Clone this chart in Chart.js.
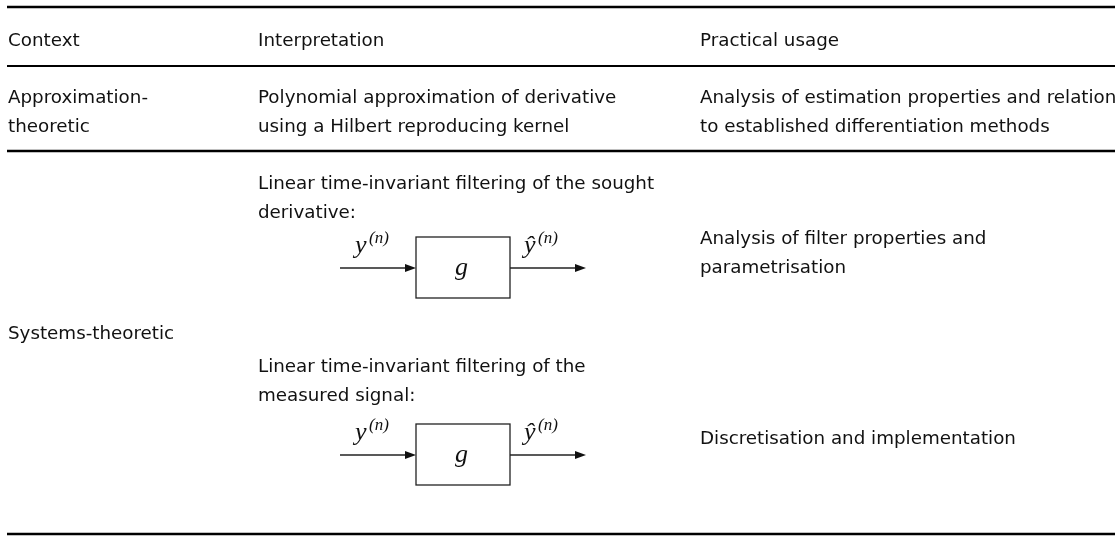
<!DOCTYPE html>
<html>
<head>
<meta charset="utf-8">
<script src="https://cdn.jsdelivr.net/npm/chart.js@4.4.0/dist/chart.umd.min.js"></script>
<style>
html, body { margin: 0; padding: 0; background: #fff; }
#wrap { width: 1120px; height: 536px; }
</style>
</head>
<body>
<div id="wrap"><canvas id="tbl" width="1120" height="536"></canvas></div>
<script>
/*
-------------------------------------
/// table content
-------------------------------------
*/
const headers = ['Context', 'Interpretation', 'Practical usage'];
const contexts = [['Approximation-', 'theoretic'], ['Systems-theoretic']];
const interpretations = [
  ['Polynomial approximation of derivative', 'using a Hilbert reproducing kernel'],
  ['Linear time-invariant filtering of the sought', 'derivative:'],
  ['Linear time-invariant filtering of the', 'measured signal:']
];
const usages = [
  ['Analysis of estimation properties and relation', 'to established differentiation methods'],
  ['Analysis of filter properties and', 'parametrisation'],
  ['Discretisation and implementation']
];
const blockIn = 'y', blockOut = 'ŷ', blockSup = '(n)', blockFn = 'g';

/*
-------------------------------------
/// layout (page pixels)
-------------------------------------
*/
const colX = [8, 258, 700];
const lineGap = 29;
const headerBase = 46;
const rules = [{y: 7, w: 2.6}, {y: 66, w: 1.8}, {y: 151, w: 2.6}, {y: 534, w: 2.6}];
const ctxBase = [103, 339];
const interpBase = [103, 189, 372];
const usageBase = [103, 244, 444];
const arrowY = [268, 455];

const sansFont = '18.3px "DejaVu Sans"';
const textColor = '#111';

function drawBlock(ctx, x, y, ay) {
  const px = v => x.getPixelForValue(v);
  const py = v => y.getPixelForValue(v);
  const x0 = px(340), bx0 = px(416), bx1 = px(510), x1 = px(586);
  const yy = py(ay);
  ctx.strokeStyle = '#222';
  ctx.fillStyle = '#111';
  ctx.lineWidth = 1.3;
  // box
  ctx.strokeRect(bx0, py(ay - 31), bx1 - bx0, py(ay + 30) - py(ay - 31));
  // arrows
  [[x0, bx0], [bx1, x1]].forEach(([a, b]) => {
    ctx.beginPath();
    ctx.moveTo(a, yy);
    ctx.lineTo(b - 9, yy);
    ctx.stroke();
    ctx.beginPath();
    ctx.moveTo(b, yy);
    ctx.lineTo(b - 11, yy - 4);
    ctx.lineTo(b - 11, yy + 4);
    ctx.closePath();
    ctx.fill();
  });
  // labels
  ctx.textAlign = 'left';
  ctx.textBaseline = 'alphabetic';
  ctx.font = 'italic 26px "Liberation Serif"';
  ctx.fillText(blockFn, px(455), py(ay + 7));
  ctx.fillText(blockIn, px(355), py(ay - 15));
  ctx.fillText(blockOut, px(524), py(ay - 15));
  ctx.font = 'italic 17px "Liberation Serif"';
  ctx.fillText(blockSup, px(369), py(ay - 25));
  ctx.fillText(blockSup, px(538), py(ay - 25));
}

const tablePlugin = {
  id: 'tablePlugin',
  afterDraw(chart) {
    const ctx = chart.ctx;
    const x = chart.scales.x, y = chart.scales.y;
    ctx.save();

    // rules
    ctx.strokeStyle = '#000';
    rules.forEach(r => {
      ctx.lineWidth = r.w;
      ctx.beginPath();
      ctx.moveTo(x.getPixelForValue(7), y.getPixelForValue(r.y));
      ctx.lineTo(x.getPixelForValue(1115), y.getPixelForValue(r.y));
      ctx.stroke();
    });

    // text
    ctx.fillStyle = textColor;
    ctx.font = sansFont;
    ctx.textAlign = 'left';
    ctx.textBaseline = 'alphabetic';
    const put = (lines, col, base) => lines.forEach((t, i) =>
      ctx.fillText(t, x.getPixelForValue(colX[col]), y.getPixelForValue(base + i * lineGap)));

    headers.forEach((h, i) => put([h], i, headerBase));
    contexts.forEach((c, i) => put(c, 0, ctxBase[i]));
    interpretations.forEach((c, i) => put(c, 1, interpBase[i]));
    usages.forEach((c, i) => put(c, 2, usageBase[i]));

    arrowY.forEach(ay => drawBlock(ctx, x, y, ay));
    ctx.restore();
  }
};

new Chart(document.getElementById('tbl'), {
  type: 'scatter',
  data: { datasets: [{ data: [], pointRadius: 0 }] },
  options: {
    responsive: false,
    animation: false,
    layout: { padding: 0 },
    plugins: { legend: { display: false }, tooltip: { enabled: false } },
    scales: {
      x: { type: 'linear', min: 0, max: 1120, display: false },
      y: { type: 'linear', min: 0, max: 536, reverse: true, display: false }
    }
  },
  plugins: [tablePlugin]
});
</script>
</body>
</html>
